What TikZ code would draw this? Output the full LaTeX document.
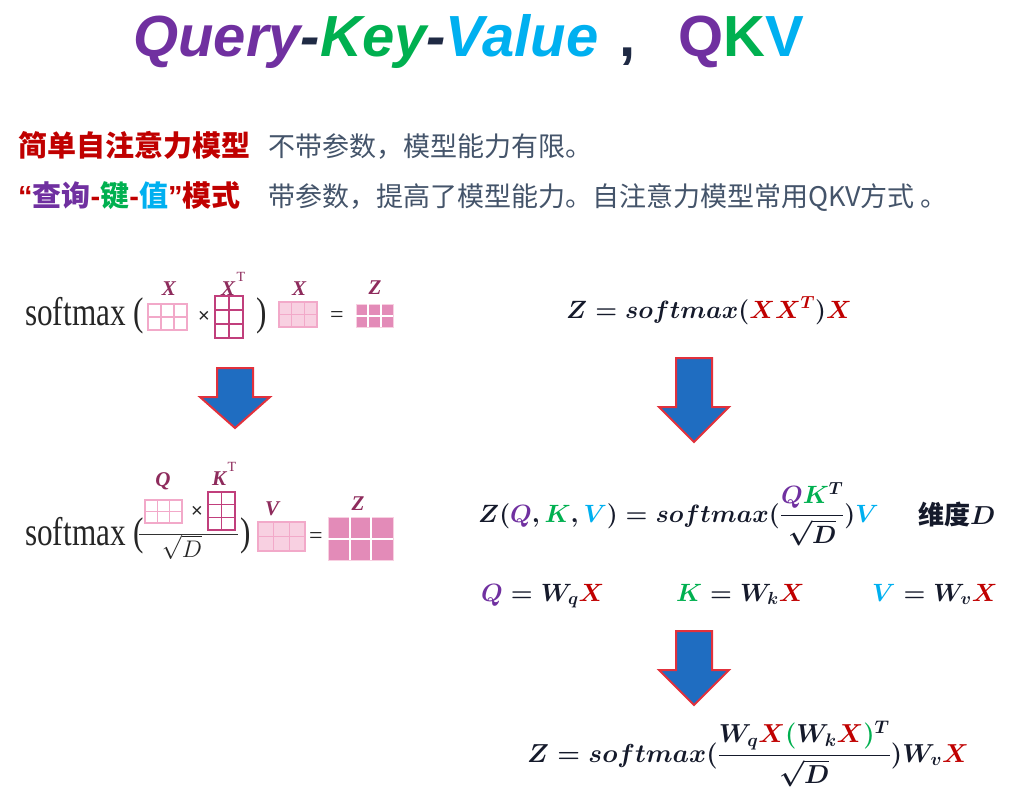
\RequirePackage{fix-cm}
\documentclass[tikz,border=0pt]{standalone}
\usepackage{fontspec}
\usepackage{amsmath}
\usepackage{graphicx}
\newfontfamily\cjk{Noto Sans CJK SC}
\newfontfamily\lsans{Liberation Sans}
\newfontfamily\lserif{Liberation Serif}
\definecolor{qpurple}{HTML}{7030A0}
\definecolor{kgreen}{HTML}{00B050}
\definecolor{vblue}{HTML}{00B0F0}
\definecolor{xred}{HTML}{C00000}
\definecolor{navy}{HTML}{1F2A44}
\definecolor{slate}{HTML}{44546A}
\definecolor{mathink}{HTML}{151A2B}
\definecolor{pinklight}{HTML}{F2A9C9}
\definecolor{pinkfill}{HTML}{F8D0E1}
\definecolor{pinkdark}{HTML}{C13F7C}
\definecolor{pinkdeep}{HTML}{E38BB8}
\definecolor{labelc}{HTML}{8E2B5C}
\definecolor{arrowblue}{HTML}{1F6DC1}
\definecolor{arrowred}{HTML}{E2313C}
% grid: x1 y1 x2 y2 cols rows boxstyle linestyle
\newcommand{\gridbox}[8]{%
  \pgfmathsetmacro\gw{(#3-#1)/#5}%
  \pgfmathsetmacro\gh{(#4-#2)/#6}%
  \pgfmathtruncatemacro\gc{#5-1}%
  \pgfmathtruncatemacro\gr{#6-1}%
  \path[#7] (#1,#2) rectangle (#3,#4);
  \foreach \i in {1,...,\gc}{\draw[#8] ({#1+\i*\gw},#2) -- ({#1+\i*\gw},#4);}
  \foreach \j in {1,...,\gr}{\draw[#8] (#1,{#2+\j*\gh}) -- (#3,{#2+\j*\gh});}
}
% arrow: cx top shaftw headtop headw tip
\newcommand{\bigdownarrow}[6]{%
  \filldraw[fatarrow] ({#1-#3/2},#2) -- ({#1+#3/2},#2) -- ({#1+#3/2},#4) -- ({#1+#5/2},#4)
    -- (#1,#6) -- ({#1-#5/2},#4) -- ({#1-#3/2},#4) -- cycle;
}
\begin{document}
\begin{tikzpicture}[x=1pt,y=-1pt,
  fatarrow/.style={fill=arrowblue,draw=arrowred,line width=2pt,line join=miter},
  titlesty/.style={inner sep=0pt,font=\lsans\bfseries\fontsize{58}{62}\selectfont},
  headsty/.style={inner sep=0pt,anchor=base west,font=\cjk\bfseries\fontsize{29}{32}\selectfont,text=xred},
  bodysty/.style={inner sep=0pt,anchor=base west,font=\cjk\fontsize{27}{30}\selectfont,text=slate},
  sersty/.style={inner sep=0pt,font=\lserif\fontsize{40}{44}\selectfont,text=black!85},
  opsty/.style={inner sep=0pt,font=\lserif\fontsize{24}{28}\selectfont,text=black!85},
  labsty/.style={inner sep=0pt,anchor=base,font=\lserif\bfseries\itshape\fontsize{21}{24}\selectfont,text=labelc},
  supsty/.style={inner sep=0pt,anchor=base west,font=\lserif\fontsize{14}{16}\selectfont,text=labelc},
  mathsty/.style={inner sep=0pt,anchor=base west,font=\fontsize{25}{30}\selectfont\boldmath,text=mathink},
  glight/.style={draw=pinklight,line width=1.3pt},
  glightl/.style={draw=pinklight,line width=1.1pt},
  gfill/.style={fill=pinkfill,draw=pinklight,line width=1.3pt},
  gdark/.style={draw=pinkdark,line width=1.5pt},
  gdarkl/.style={draw=pinkdark,line width=1.3pt},
  gsolid/.style={fill=pinkdeep,draw=pinkfill,line width=1pt},
  gsolidl/.style={draw=white,line width=2pt}]
\fill[white] (0,0) rectangle (1024,795);
\useasboundingbox (0,0) rectangle (1024,795);

% ---- title ----
\node[titlesty,anchor=base west,font=\lsans\bfseries\itshape\fontsize{58}{62}\selectfont] (title) at (133,56)
  {\textcolor{qpurple}{Query}\textcolor{navy}{-}\textcolor{kgreen}{Key}\textcolor{navy}{-}\textcolor{vblue}{Value}};
\node[titlesty,anchor=base,text=navy] (comma) at (628,56) {,};
\node[titlesty,anchor=base west] (qkv) at (678,56)
  {\textcolor{qpurple}{Q}\textcolor{kgreen}{K}\textcolor{vblue}{V}};

% ---- text lines ----
\node[headsty] (h1) at (18,156) {简单自注意力模型};
\node[bodysty] (b1) at (268,156) {不带参数，模型能力有限。};
\node[headsty] (h2) at (18,206) {{\lsans\bfseries “}\textcolor{qpurple}{查询}{\lsans\bfseries -}\textcolor{kgreen}{键}{\lsans\bfseries -}\textcolor{vblue}{值}{\lsans\bfseries ”}模式};
\node[bodysty] (b2) at (268,206) {带参数，提高了模型能力。自注意力模型常用QKV方式 。};

% ---- left top formula ----
\node[sersty,anchor=base west] (sm1) at (25,325) {\scalebox{0.78}[1]{softmax (}};
\gridbox{148}{304}{187}{330}{3}{2}{glight}{glightl}
\node[opsty,font=\lsans\fontsize{20}{24}\selectfont] (x1) at (204,317) {×};
\gridbox{215}{296}{243}{338}{2}{3}{gdark}{gdarkl}
\node[sersty,anchor=base] (rp1) at (262,325) {\scalebox{0.78}[1]{)}};
\gridbox{279}{302}{317}{327}{3}{2}{gfill}{glightl}
\node[opsty] (eq1l) at (337,317) {=};
\gridbox{356}{304}{393}{327}{3}{2}{gsolid}{gsolidl}
\node[labsty] (lx1) at (169,295) {X};
\node[labsty,anchor=base west] (lx2) at (221,295) {X};
\node[supsty] (lt2) at (lx2.base east) [xshift=1pt,yshift=14pt] {T};
\node[labsty] (lx3) at (299,295) {X};
\node[labsty] (lz1) at (375,294) {Z};

% ---- left bottom formula ----
\node[sersty,anchor=base west] (sm2) at (25,545) {\scalebox{0.78}[1]{softmax (}};
\gridbox{145}{500}{182}{523}{3}{2}{glight}{glightl}
\node[opsty,font=\lsans\fontsize{20}{24}\selectfont] (x2) at (197,512) {×};
\gridbox{208}{492}{235}{530}{2}{3}{gdark}{gdarkl}
\coordinate (fl) at (139,534);
\coordinate (fr) at (238,534);
\draw[line width=1pt,black!80] (fl) -- (fr);
\node[inner sep=0pt,anchor=base,font=\fontsize{24}{28}\selectfont,text=black!85] (sq1) at (182,557) {$\sqrt{D}$};
\node[sersty,anchor=base] (rp2) at (246,545) {\scalebox{0.78}[1]{)}};
\gridbox{258}{522}{305}{551}{3}{2}{gfill}{glightl}
\node[opsty] (eq2l) at (316,538) {=};
\gridbox{328}{517}{393}{560}{3}{2}{gsolid}{gsolidl}
\node[labsty] (lq) at (163,486) {Q};
\node[labsty,anchor=base west] (lk) at (212,485) {K};
\node[supsty] (ltk) at (lk.base east) [xshift=1pt,yshift=14pt] {T};
\node[labsty] (lv) at (272,515) {V};
\node[labsty] (lz2) at (358,510) {Z};

% ---- arrows ----
\bigdownarrow{235}{368}{36}{397}{70}{428}
\bigdownarrow{694}{358}{36}{407}{70}{442}
\bigdownarrow{694}{631}{36}{670}{70}{705}

% ---- right formulas ----
\node[mathsty] (f1) at (566,318)
  {$Z = softmax({\color{xred}XX^{T}}){\color{xred}X}$};
\node[mathsty] (f2) at (478,522)
  {$Z({\color{qpurple}Q},{\color{kgreen}K},{\color{vblue}V}) = softmax(\dfrac{{\color{qpurple}Q}{\color{kgreen}K}^{T}}{\sqrt{D}}){\color{vblue}V}$};
\node[mathsty,font=\cjk\bfseries\fontsize{26}{30}\selectfont\boldmath] (dim) at (918,524) {维度$D$};
\node[mathsty] (fq) at (481,601) {${\color{qpurple}Q} = W_{q}{\color{xred}X}$};
\node[mathsty] (fk) at (676,601) {${\color{kgreen}K} = W_{k}{\color{xred}X}$};
\node[mathsty] (fv) at (872,601) {${\color{vblue}V} = W_{v}{\color{xred}X}$};
\node[mathsty,font=\fontsize{26}{31}\selectfont\boldmath] (f4) at (527,762)
  {$Z = softmax(\dfrac{W_{q}{\color{xred}X}{\color{kgreen}(}W_{k}{\color{xred}X}{\color{kgreen})}^{T}}{\sqrt{D}})W_{v}{\color{xred}X}$};
\end{tikzpicture}
\end{document}
